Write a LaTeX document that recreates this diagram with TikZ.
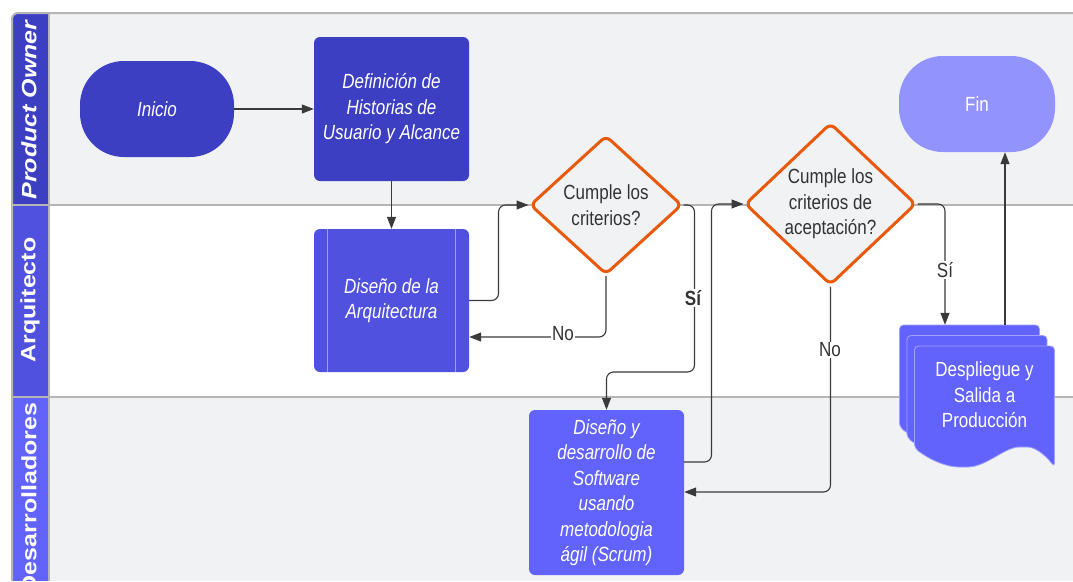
\documentclass[tikz,border=0pt]{standalone}
\usepackage{fontspec}
\usepackage{graphicx}
\setmainfont{Liberation Sans}[FakeStretch=0.83]
\newfontfamily\lanefont{Liberation Sans}
\usetikzlibrary{arrows.meta,shapes.geometric,calc}
\definecolor{poC}{HTML}{3C3FC2}
\definecolor{arC}{HTML}{5051DF}
\definecolor{dvC}{HTML}{6262FD}
\definecolor{finC}{HTML}{9393FD}
\definecolor{laneG}{HTML}{F1F2F4}
\definecolor{sepG}{HTML}{B5B5B5}
\definecolor{decO}{HTML}{E8590C}
\definecolor{lineC}{HTML}{3A3A3A}
\definecolor{txtC}{HTML}{333333}
\newcommand\lanetext[1]{\scalebox{1}[0.83]{#1}}
\begin{document}
\begin{tikzpicture}[x=1pt,y=-1pt,
  conn/.style={draw=lineC, line width=1.1pt, rounded corners=7pt},
  arr/.style={conn, -{Triangle[length=12pt,width=9pt]}},
  lbl/.style={fill=white, inner sep=1pt, text=txtC, font=\fontsize{20.5}{24}\selectfont},
  boxtxt/.style={text=white, align=center, inner sep=0pt, font=\fontsize{20.5}{25.5}\selectfont\itshape},
  procbox/.style={boxtxt, rectangle, rounded corners=6pt, minimum width=155pt},
  termbox/.style={boxtxt, rectangle, rounded corners=44pt, minimum width=155pt, minimum height=96pt},
  decision/.style={diamond, draw=decO, line width=3pt, fill=laneG, rounded corners=6pt,
    inner sep=0pt, align=center, text=txtC, font=\fontsize{20.5}{25.5}\selectfont},
  lanelbl/.style={rotate=90, text=white, inner sep=0pt, font=\lanefont\fontsize{25}{25}\selectfont\bfseries},
  docsheet/.pic={
    \filldraw[fill=dvC, draw=white!40!dvC, line width=0.8pt, rounded corners=4pt]
      (0,102) -- (0,0) -- (140,0) -- (140,121)
      .. controls (130,108) and (120,101) .. (109,101)
      .. controls (90,101) and (72,121) .. (49,121)
      .. controls (28,121) and (10,110) .. (0,102) -- cycle;
  }
]
\useasboundingbox (0,0) rectangle (1073,581);
% lanes
\fill[laneG] (49,13) rectangle (1073,205);
\fill[white] (49,205) rectangle (1073,397);
\fill[laneG] (49,397) rectangle (1073,581);
\fill[poC] (12,205) -- (12,19) arc[start angle=180,end angle=270,radius=6] -- (49,13) -- (49,205) -- cycle;
\fill[arC] (12,205) rectangle (49,397);
\fill[dvC] (12,397) rectangle (49,581);
\draw[sepG, line width=2pt] (12,581) -- (12,19) arc[start angle=180,end angle=270,radius=6] -- (1073,13);
\draw[sepG, line width=1.5pt] (49,13) -- (49,581);
\draw[sepG, line width=2pt] (12,205) -- (1073,205);
\draw[sepG, line width=2pt] (12,397) -- (1073,397);
\node[lanelbl, font=\lanefont\fontsize{25}{25}\selectfont\bfseries\itshape] (lpo) at (29,110) {\lanetext{Product Owner}};
\node[lanelbl] (lar) at (30,300) {\lanetext{Arquitecto}};
\node[lanelbl] (ldv) at (29,498) {\lanetext{Desarrolladores}};

% nodes
\node[termbox, fill=poC, minimum width=154pt] (inicio) at (157,109) {Inicio};
\node[procbox, fill=poC, minimum height=144pt] (def) at (391.5,109) {Definición de\\Historias de\\Usuario y Alcance};
\node[procbox, fill=arC, minimum height=143pt] (arq) at (391.5,300.5) {Diseño de la\\Arquitectura};
\draw[white!45!arC, line width=0.8pt] ([xshift=14pt]arq.north west) -- ([xshift=14pt]arq.south west);
\draw[white!45!arC, line width=0.8pt] ([xshift=-14pt]arq.north east) -- ([xshift=-14pt]arq.south east);
\node[decision, minimum width=152pt, minimum height=139pt] (d1) at (606,205) {Cumple los\\criterios?};
\node[decision, minimum width=171pt, minimum height=162pt] (d2) at (830.5,204) {Cumple los\\criterios de\\aceptación?};
\node[termbox, fill=finC, minimum width=156pt, font=\fontsize{20.5}{25.5}\selectfont] (fin) at (977,104) {Fin};
\node[procbox, fill=dvC, minimum height=165pt] (dev) at (606.5,492.5) {Diseño y\\desarrollo de\\Software\\usando\\metodologia\\ágil (Scrum)};
\pic at (899.5,325) {docsheet};
\pic at (907,335.5) {docsheet};
\pic at (914.5,346) {docsheet};
\node[inner sep=0pt, minimum width=155pt, minimum height=142pt] (depbox) at (977,396) {};
\node[boxtxt, font=\fontsize{20.5}{25.5}\selectfont] (dep) at (984.5,395) {Despliegue y\\Salida a\\Producción};

% connectors
\draw[arr] (inicio.east) -- (def.west |- inicio.east);
\draw[arr] (def.south) -- (arq.north);
\draw[arr] (arq.east) -| ($(d1.west)+(-30,0)$) -- (d1.west);
\draw[arr] (d1.south) |- (arq.east |- 0,337);
\draw[arr] (d1.east) -- ++(11,0) |- (dev.north |- 0,372) -- (dev.north);
\draw[arr] (dev.east |- 0,462) -| ($(d2.west)+(-32,0)$) -- (d2.west);
\draw[arr] (d2.south) |- (dev.east |- 0,492);
\draw[arr] (d2.east) -| ([xshift=-32pt]depbox.north);
\draw[arr] ([xshift=28pt]depbox.north) -- ([xshift=28pt]fin.south);

% labels
\node[lbl] (lno1) at (563,334) {No};
\node[lbl, font=\fontsize{20.5}{24}\selectfont\bfseries] (lsi1) at (693,298) {Sí};
\node[lbl] (lno2) at (830,350) {No};
\node[lbl] (lsi2) at (945,270) {Sí};
\end{tikzpicture}
\end{document}
